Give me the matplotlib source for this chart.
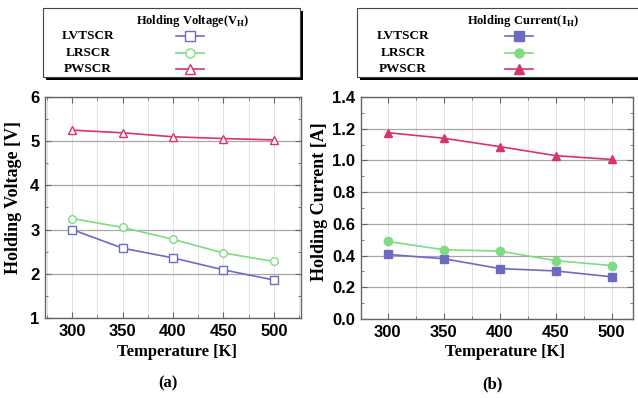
import matplotlib
matplotlib.use("Agg")
import matplotlib.pyplot as plt
from matplotlib.lines import Line2D
from matplotlib.patches import Rectangle
from matplotlib.ticker import MultipleLocator

# 数据
temps = [300, 350, 400, 450, 500]
series_names = ["LVTSCR", "LRSCR", "PWSCR"]
vh_lvtscr = [3.00, 2.58, 2.36, 2.09, 1.86]
vh_lrscr = [3.25, 3.05, 2.78, 2.47, 2.28]
vh_pwscr = [5.25, 5.19, 5.10, 5.06, 5.03]
ih_lvtscr = [0.407, 0.380, 0.318, 0.303, 0.266]
ih_lrscr = [0.489, 0.437, 0.428, 0.368, 0.337]
ih_pwscr = [1.175, 1.140, 1.087, 1.030, 1.006]

colors = ["#6b6bc4", "#7fdc80", "#d9326e"]
markers = ["s", "o", "^"]

W, H = 638, 398
SERIF = ["Liberation Serif", "DejaVu Serif"]
SANS = ["Liberation Sans", "DejaVu Sans"]

fig = plt.figure(figsize=(W / 100, H / 100), dpi=100)


def px_rect(x0, y0, x1, y1):
    return [x0 / W, 1 - y1 / H, (x1 - x0) / W, (y1 - y0) / H]


def style_axes(ax, xlim, ylim, ymajor, yminor, fmt):
    ax.set_xlim(*xlim)
    ax.set_ylim(*ylim)
    ax.xaxis.set_major_locator(MultipleLocator(50))
    ax.xaxis.set_minor_locator(MultipleLocator(25))
    ax.yaxis.set_major_locator(MultipleLocator(ymajor))
    ax.yaxis.set_minor_locator(MultipleLocator(yminor))
    ax.grid(axis="y", which="major", color="#a8a8a8", linewidth=0.9)
    ax.grid(axis="x", which="both", color="#e2e2e2", linewidth=0.7)
    ax.set_axisbelow(True)
    ax.tick_params(which="both", direction="in", top=True, right=True, color="#666666")
    ax.tick_params(which="major", length=4, labelsize=12, pad=4)
    ax.tick_params(which="minor", length=2.5)
    for sp in ax.spines.values():
        sp.set_color("#666666")
        sp.set_linewidth(1.0)
    ax.yaxis.set_major_formatter(fmt)
    for lab in ax.get_xticklabels() + ax.get_yticklabels():
        lab.set_family(SANS)
        lab.set_fontweight("bold")
    ax.set_xlabel("Temperature [K]", family=SERIF, fontweight="bold", fontsize=12)


# (a) Holding Voltage
ax1 = fig.add_axes(px_rect(45, 97, 301, 318))
for vals, c, m in zip([vh_lvtscr, vh_lrscr, vh_pwscr], colors, markers):
    ax1.plot(temps, vals, color=c, marker=m, markersize=5.5, markerfacecolor="white",
             markeredgecolor=c, linewidth=1.2)
style_axes(ax1, (273, 527), (1, 6), 1, 0.5, plt.FormatStrFormatter("%d"))
ax1.set_ylabel("Holding Voltage [V]", family=SERIF, fontweight="bold", fontsize=13)
ax1.yaxis.set_label_coords(-23 / 256, 0.545)
ax1.xaxis.set_label_coords(0.516, -26 / 221)

# (b) Holding Current
ax2 = fig.add_axes(px_rect(361, 97, 633, 319))
for vals, c, m in zip([ih_lvtscr, ih_lrscr, ih_pwscr], colors, markers):
    ax2.plot(temps, vals, color=c, marker=m, markersize=6, markerfacecolor=c,
             markeredgecolor=c, linewidth=1.2)
style_axes(ax2, (276, 519), (0, 1.4), 0.2, 0.1, plt.FormatStrFormatter("%.1f"))
ax2.set_ylabel("Holding Current [A]", family=SERIF, fontweight="bold", fontsize=13)
ax2.yaxis.set_label_coords(-33 / 272, 0.53)
ax2.xaxis.set_label_coords(0.53, -25 / 222)

fig.text(168 / W, 1 - 383 / H, "(a)", family=SERIF, fontweight="bold", fontsize=12,
         ha="center", va="center")
fig.text(492 / W, 1 - 384 / H, "(b)", family=SERIF, fontweight="bold", fontsize=12,
         ha="center", va="center")


# 图例框
def legend_box(x0, x1, title, title_x, text_x, mark_x, filled):
    y0, y1 = 8, 77
    fig.add_artist(Rectangle((x0 / W + 3 / W, 1 - (y1 + 3) / H), (x1 - x0) / W, (y1 - y0) / H,
                             transform=fig.transFigure, facecolor="black", edgecolor="none",
                             zorder=1))
    fig.add_artist(Rectangle((x0 / W, 1 - y1 / H), (x1 - x0) / W, (y1 - y0) / H,
                             transform=fig.transFigure, facecolor="white", edgecolor="#444444",
                             linewidth=0.8, zorder=2))
    fig.text(title_x / W, 1 - 21 / H, title, family=SERIF, fontweight="bold", fontsize=9,
             ha="center", va="center", zorder=3)
    for name, c, m, yy in zip(series_names, colors, markers, [36, 53, 69]):
        fig.text(text_x / W, 1 - yy / H, name, family=SERIF, fontweight="bold", fontsize=9.5,
                 ha="center", va="center", zorder=3)
        fig.add_artist(Line2D([(mark_x - 14) / W, (mark_x + 14) / W], [1 - yy / H, 1 - yy / H],
                              transform=fig.transFigure, color=c, linewidth=1.2, zorder=3))
        fig.add_artist(Line2D([mark_x / W], [1 - yy / H], transform=fig.transFigure,
                              color=c, marker=m, linestyle="none", markersize=6.5,
                              markerfacecolor=c if filled else "white", markeredgecolor=c,
                              zorder=4))


legend_box(43, 300, r"Holding Voltage(V$_\mathregular{H}$)", 193, 88, 190, False)
legend_box(357, 650, r"Holding Current(I$_\mathregular{H}$)", 523, 403, 519, True)

fig.savefig("out.png", dpi=100)
